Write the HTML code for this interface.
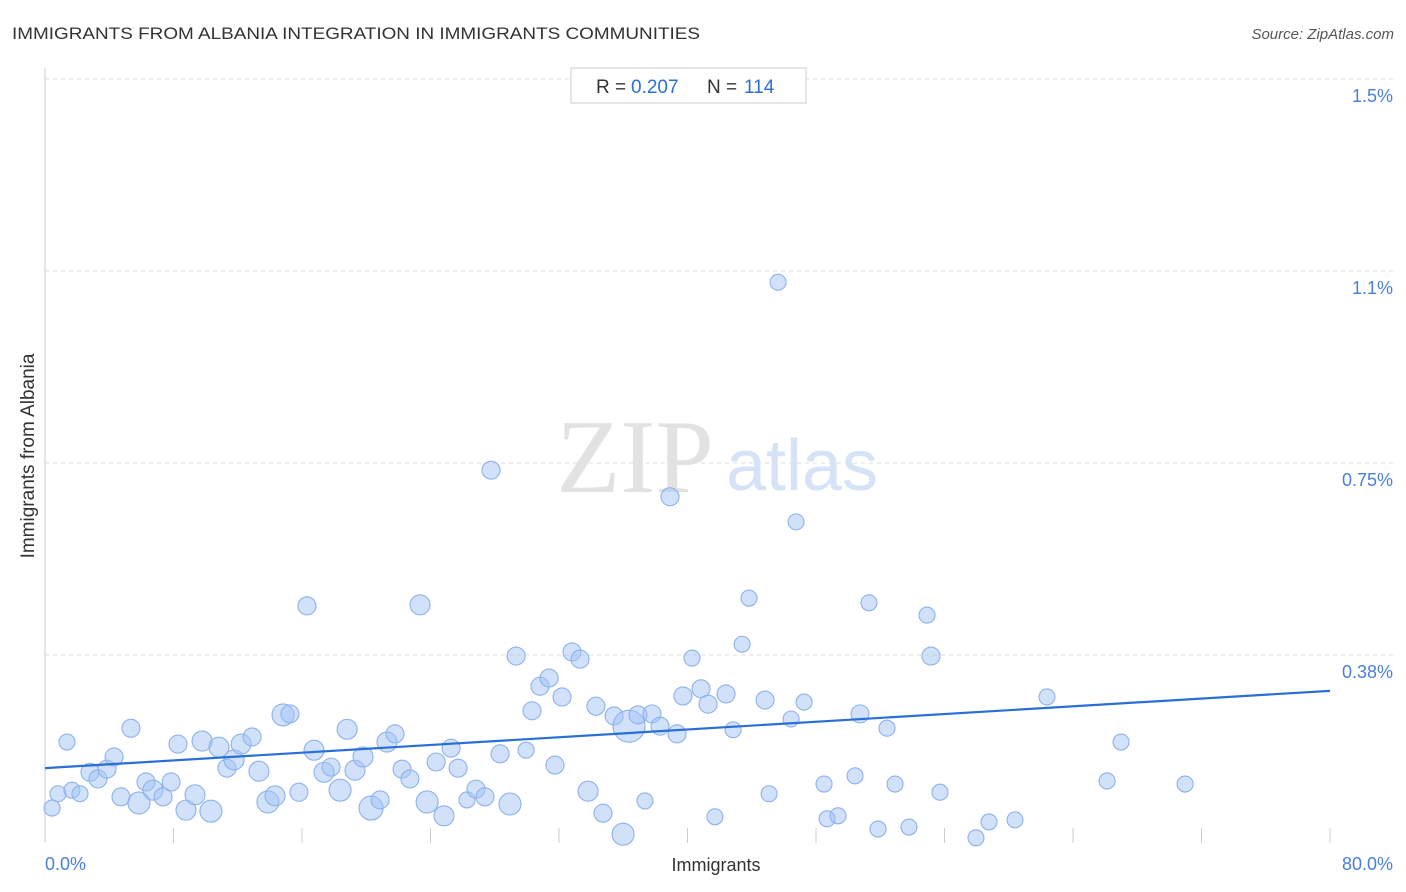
<!DOCTYPE html>
<html><head><meta charset="utf-8"><style>
body{margin:0;background:#fff;font-family:"Liberation Sans",sans-serif;}
svg{display:block}
</style></head><body>
<svg id="chart" width="1406" height="892">
<text x="12" y="39" font-size="17" fill="#333" textLength="688" lengthAdjust="spacingAndGlyphs">IMMIGRANTS FROM ALBANIA INTEGRATION IN IMMIGRANTS COMMUNITIES</text>
<text x="1394" y="39" font-size="15" fill="#555" font-style="italic" text-anchor="end">Source: ZipAtlas.com</text>
<g id="grid"></g>
<g><text x="635" y="492" font-size="105" fill="#e2e2e2" font-family="Liberation Serif" text-anchor="middle">ZIP</text><text x="802" y="490" font-size="72" fill="#d6e2f5" text-anchor="middle">atlas</text></g>
<g id="points"></g>
<g id="trend"></g>
<g><rect x="571" y="68" width="235" height="35" fill="#fff" stroke="#ccc"/>
<text y="93" font-size="19" fill="#333"><tspan x="596">R = </tspan><tspan x="631" fill="#2a6fd6">0.207</tspan><tspan x="707">N = </tspan><tspan x="744" fill="#2a6fd6">114</tspan></text></g>
<text x="716" y="871" font-size="18" fill="#333" text-anchor="middle">Immigrants</text>
<text transform="translate(34,456) rotate(-90)" font-size="19" fill="#333" text-anchor="middle">Immigrants from Albania</text>
<text x="45" y="870" font-size="18" fill="#4a80d8">0.0%</text>
<text x="1393" y="870" font-size="18" fill="#4a80d8" text-anchor="end">80.0%</text>
</svg>
<script>
const xs=[0.44,0.81,1.37,1.68,2.18,2.80,3.30,3.86,4.30,4.73,5.35,5.85,6.29,6.72,7.35,7.85,8.28,8.78,9.34,9.78,10.33,10.83,11.33,11.77,12.21,12.89,13.32,13.88,14.32,14.82,15.25,15.81,16.31,16.75,17.37,17.81,18.37,18.81,19.30,19.80,20.30,20.86,21.29,21.79,22.23,22.72,23.35,23.79,24.35,24.84,25.28,25.72,26.27,26.83,27.39,27.77,28.33,28.95,29.33,29.95,30.32,30.82,31.38,31.75,32.19,32.81,33.31,33.81,34.30,34.74,35.43,35.99,36.36,36.92,37.35,37.79,38.29,38.91,39.35,39.72,40.28,40.84,41.28,41.71,42.40,42.84,43.40,43.83,44.83,45.08,45.64,46.45,46.76,47.26,48.50,48.69,49.37,50.43,50.74,51.30,51.86,52.42,52.92,53.79,54.91,55.16,55.72,57.96,58.77,60.39,62.38,66.12,66.99,70.98];
const ys=[0.076,0.104,0.205,0.111,0.104,0.146,0.133,0.152,0.176,0.098,0.232,0.086,0.127,0.111,0.098,0.127,0.201,0.072,0.102,0.207,0.070,0.195,0.154,0.170,0.201,0.215,0.148,0.088,0.100,0.258,0.260,0.107,0.471,0.189,0.146,0.156,0.111,0.230,0.150,0.176,0.076,0.092,0.205,0.221,0.152,0.133,0.473,0.088,0.166,0.061,0.193,0.154,0.092,0.113,0.098,0.736,0.182,0.084,0.373,0.189,0.266,0.314,0.330,0.160,0.293,0.381,0.367,0.109,0.275,0.066,0.256,0.025,0.236,0.258,0.090,0.260,0.236,0.684,0.221,0.295,0.369,0.309,0.279,0.059,0.299,0.229,0.396,0.486,0.287,0.104,1.103,0.250,0.635,0.283,0.123,0.055,0.061,0.139,0.260,0.477,0.035,0.232,0.123,0.039,0.453,0.373,0.107,0.018,0.049,0.053,0.293,0.129,0.205,0.123];
const sizes=[8,8,8,8,8,9,9,9,9,9,9,11,9,10,9,9,9,10,10,10,11,10,9,10,10,9,10,11,10,11,9,9,9,10,10,9,11,10,10,10,12,9,10,9,9,9,10,11,9,10,9,9,8,9,9,9,9,11,9,8,9,9,9,9,9,9,9,10,9,9,9,11,16,9,8,9,9,9,9,9,8,9,9,8,9,8,8,8,9,8,8,8,8,8,8,8,8,8,9,8,8,8,8,8,8,9,8,8,8,8,8,8,8,8];
const yTicks=[0.375,0.75,1.125,1.5];
const yTickLabels=["0.38%","0.75%","1.1%","1.5%"];
const xTicks=[0,8,16,24,32,40,48,56,64,72,80];
const trendStart=0.154, trendEnd=0.305;
const NS="http://www.w3.org/2000/svg";
const X=v=>45+v/80*1285, Y=v=>847-v/0.375*192;
function mk(tag,attrs,parent){const e=document.createElementNS(NS,tag);for(const k in attrs)e.setAttribute(k,attrs[k]);parent.appendChild(e);return e;}
const grid=document.getElementById('grid');
const al=mk('line',{x1:45,y1:68,x2:45,y2:843,stroke:'#ccc'},grid);


yTicks.forEach((t,i)=>{
 const l=mk('line',{x1:45,y1:Y(t),x2:1395,y2:Y(t),stroke:'#ddd','stroke-dasharray':'4,4'},grid);
 
 
 const tx=mk('text',{x:1393,y:Y(t)+23,'font-size':18,fill:'#4a80d8','text-anchor':'end'},grid);
 tx.textContent=yTickLabels[i];
 
 
});
xTicks.forEach(t=>{
 const l=mk('line',{x1:X(t),y1:828,x2:X(t),y2:843,stroke:'#ccc'},grid);
 
 
});
const pts=document.getElementById('points');
xs.forEach((x,i)=>{
 const c=mk('circle',{cx:X(x),cy:Y(ys[i]),r:sizes[i],fill:'rgba(164,196,245,0.5)',stroke:'#8db2ea','stroke-width':1.1},pts);
 
 
});
const tl=mk('line',{x1:X(0),y1:Y(trendStart),x2:X(80),y2:Y(trendEnd),stroke:'#2a6fd6','stroke-width':2.2},document.getElementById('trend'));


</script>
</body></html>
